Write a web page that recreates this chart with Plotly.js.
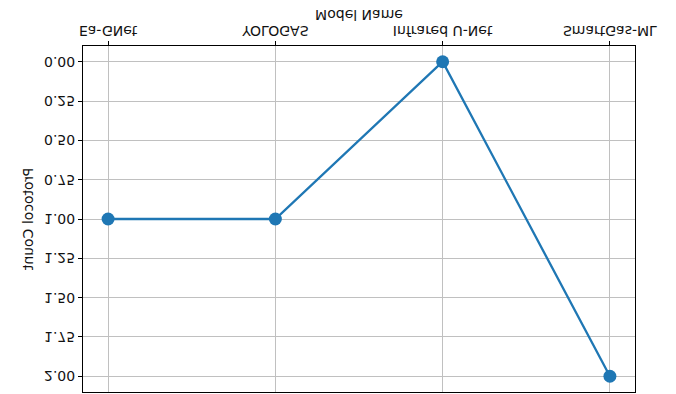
<!DOCTYPE html>
<html>
<head>
<meta charset="utf-8">
<script src="https://cdn.plot.ly/plotly-3.0.1.min.js"></script>
<style>
  html, body { margin: 0; padding: 0; background: #fff; }
  /* the figure is shown mirrored top-to-bottom */
  #chart { width: 676px; height: 394px; transform: scaleY(-1); }
</style>
</head>
<body>
<div id="chart"></div>
<script>
// Protocol count per model
const models = ["Ea-GNet", "YOLOGAS", "Infrared U-Net", "SmartGas-ML"];
const protocolCounts = [1, 1, 0, 2];
const yTickValues = [0, 0.25, 0.5, 0.75, 1, 1.25, 1.5, 1.75, 2];
const yTickLabels = ["0.00", "0.25", "0.50", "0.75", "1.00", "1.25", "1.50", "1.75", "2.00"];

const font = { family: "DejaVu Sans, sans-serif", size: 14, color: "#111" };

const trace = {
  x: models.map((_, i) => i),
  y: protocolCounts,
  type: "scatter",
  mode: "lines+markers",
  line: { color: "#1f77b4", width: 2.3 },
  marker: { color: "#1f77b4", size: 13 },
  hoverinfo: "skip"
};

const layout = {
  width: 676,
  height: 394,
  margin: { l: 83, r: 41, t: 2, b: 46 },
  paper_bgcolor: "#fff",
  plot_bgcolor: "#fff",
  showlegend: false,
  font: font,
  xaxis: {
    range: [-0.15, 3.15],
    tickmode: "array",
    tickvals: models.map((_, i) => i),
    ticktext: models,
    ticks: "outside",
    ticklen: 4,
    tickwidth: 1,
    tickcolor: "#000",
    ticklabelstandoff: -2,
    showgrid: true,
    gridcolor: "#c0c0c0",
    gridwidth: 1,
    showline: true,
    linecolor: "#000",
    linewidth: 1,
    mirror: true,
    zeroline: false,
    tickfont: font,
    title: { text: "Model Name", font: font, standoff: 3 }
  },
  yaxis: {
    range: [-0.1, 2.1],
    tickmode: "array",
    tickvals: yTickValues,
    ticktext: yTickLabels,
    ticks: "outside",
    ticklen: 4,
    tickwidth: 1,
    tickcolor: "#000",
    showgrid: true,
    gridcolor: "#c0c0c0",
    gridwidth: 1,
    showline: true,
    linecolor: "#000",
    linewidth: 1,
    mirror: true,
    zeroline: false,
    tickfont: font,
    title: { text: "Protocol Count", font: font, standoff: 7 }
  }
};

Plotly.newPlot("chart", [trace], layout, { displayModeBar: false, staticPlot: true });
</script>
</body>
</html>
